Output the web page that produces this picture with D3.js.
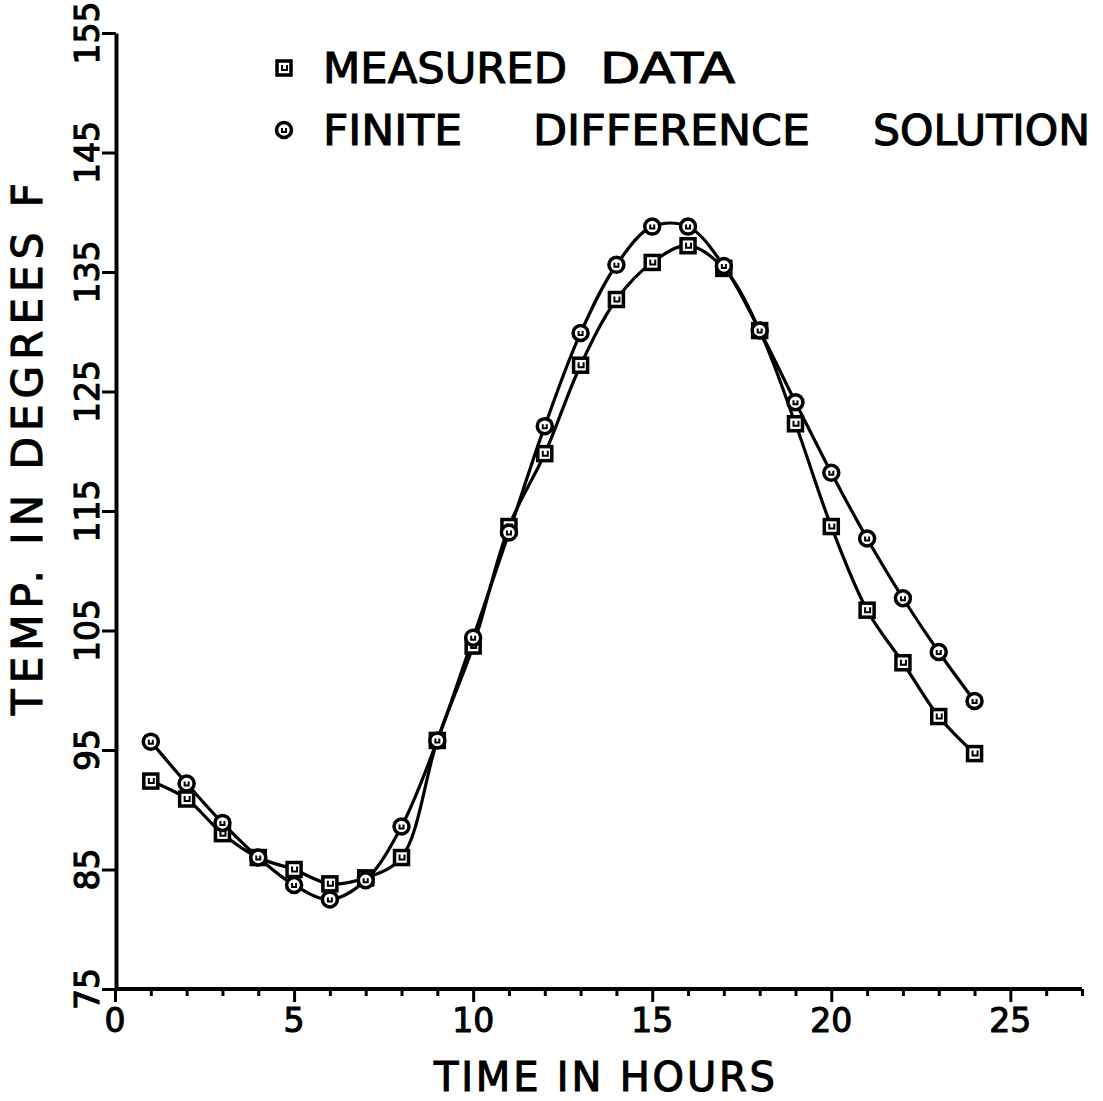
<!DOCTYPE html>
<html>
<head>
<meta charset="utf-8">
<script src="https://cdn.jsdelivr.net/npm/d3@7"></script>
<style>
  html, body { margin: 0; padding: 0; background: #fff; }
  svg { display: block; }
  text { font-family: "DejaVu Sans", sans-serif; fill: #000; stroke: #000; stroke-width: 1.1px; }
</style>
</head>
<body>
<script>
// Hourly temperatures, degrees F
const hours = [1,2,3,4,5,6,7,8,9,10,11,12,13,14,15,16,17,18,19,20,21,22,23,24];
const measured = [92.4,90.9,88.0,86.0,85.0,83.8,84.3,86.0,95.8,103.7,113.7,119.8,127.2,132.7,135.8,137.2,135.3,130.1,122.3,113.7,106.7,102.3,97.8,94.7];
const finiteDiff = [95.7,92.2,88.9,86.0,83.7,82.5,84.1,88.6,95.8,104.4,113.2,122.1,129.9,135.6,138.8,138.8,135.5,130.1,124.1,118.2,112.7,107.7,103.2,99.1];
const yTicks = [75,85,95,105,115,125,135,145,155];
const xMajorTicks = [0,5,10,15,20,25];

const W = 1103, H = 1101;
const svg = d3.select("body").append("svg").attr("width", W).attr("height", H);

const x = d3.scaleLinear().domain([0, 27]).range([115, 1082]);
const y = d3.scaleLinear().domain([75, 155]).range([989, 33]);

// x axis: minor tick every hour, long tick and label every 5
const xAxis = svg.append("g").attr("transform", `translate(0,${y(75)})`)
  .call(d3.axisBottom(x).tickValues(d3.range(0, 28)).tickSize(7).tickSizeOuter(0).tickFormat(""));
xAxis.select(".domain").attr("stroke-width", 4).attr("d", `M${x(0)},0H${x(27)}`);
xAxis.selectAll(".tick line").attr("stroke-width", 3)
  .attr("y2", d => xMajorTicks.includes(d) ? 13 : 7);
svg.append("g").selectAll("text").data(xMajorTicks).join("text")
  .attr("x", d => x(d)).attr("y", 1032)
  .attr("text-anchor", "middle").attr("font-size", 33)
  .text(d => d);

// y axis: ticks to the left, rotated labels
const yAxis = svg.append("g").attr("transform", `translate(${x(0) + 1},0)`)
  .call(d3.axisLeft(y).tickValues(yTicks).tickSize(14).tickSizeOuter(0).tickFormat(""));
yAxis.select(".domain").attr("stroke-width", 4);
yAxis.selectAll(".tick line").attr("stroke-width", 3);
svg.append("g").selectAll("text").data(yTicks).join("text")
  .attr("transform", d => `translate(99,${y(d)}) rotate(-90)`)
  .attr("text-anchor", "middle").attr("font-size", 33)
  .text(d => d);

// axis titles
svg.append("text").attr("x", 434).attr("y", 1091).attr("font-size", 40)
  .attr("textLength", 341).attr("lengthAdjust", "spacing").text("TIME IN HOURS");
svg.append("text").attr("transform", "translate(42,715) rotate(-90)").attr("font-size", 42)
  .attr("textLength", 532).attr("lengthAdjust", "spacing").text("TEMP. IN DEGREES F");

// curves
const line = d3.line().x((d, i) => x(hours[i])).y(d => y(d)).curve(d3.curveCatmullRom.alpha(0.5));
[measured, finiteDiff].forEach(s => {
  svg.append("path").attr("d", line(s)).attr("fill", "none")
    .attr("stroke", "#000").attr("stroke-width", 3.2);
});

// markers
function square(g, cx, cy) {
  g.append("rect").attr("x", cx - 7).attr("y", cy - 7).attr("width", 14).attr("height", 14)
    .attr("fill", "#fff").attr("stroke", "#000").attr("stroke-width", 3.5);
  g.append("path").attr("d", `M${cx - 2},${cy - 3}V${cy + 2}H${cx + 3}V${cy - 3}`)
    .attr("fill", "none").attr("stroke", "#000").attr("stroke-width", 2);
}
function circle(g, cx, cy) {
  g.append("circle").attr("cx", cx).attr("cy", cy).attr("r", 7.5)
    .attr("fill", "#fff").attr("stroke", "#000").attr("stroke-width", 3.5);
  g.append("path").attr("d", `M${cx - 2},${cy - 2}V${cy + 2}H${cx + 2}V${cy - 2}`)
    .attr("fill", "none").attr("stroke", "#000").attr("stroke-width", 2);
}
const mk = svg.append("g");
measured.forEach((v, i) => square(mk, x(hours[i]), y(v)));
finiteDiff.forEach((v, i) => circle(mk, x(hours[i]), y(v)));

// legend
const lg = svg.append("g");
square(lg, 284, 68);
circle(lg, 284, 130);
const legendWords = [
  { t: "MEASURED", x: 323, w: 244, y: 83 },
  { t: "DATA", x: 600, w: 135, y: 83 },
  { t: "FINITE", x: 323, w: 139, y: 145 },
  { t: "DIFFERENCE", x: 533, w: 277, y: 145 },
  { t: "SOLUTION", x: 873, w: 217, y: 145 }
];
lg.selectAll("text.lw").data(legendWords).join("text").attr("class", "lw")
  .attr("x", d => d.x).attr("y", d => d.y).attr("font-size", 42)
  .attr("textLength", d => d.w).attr("lengthAdjust", "spacingAndGlyphs")
  .text(d => d.t);
</script>
</body>
</html>
